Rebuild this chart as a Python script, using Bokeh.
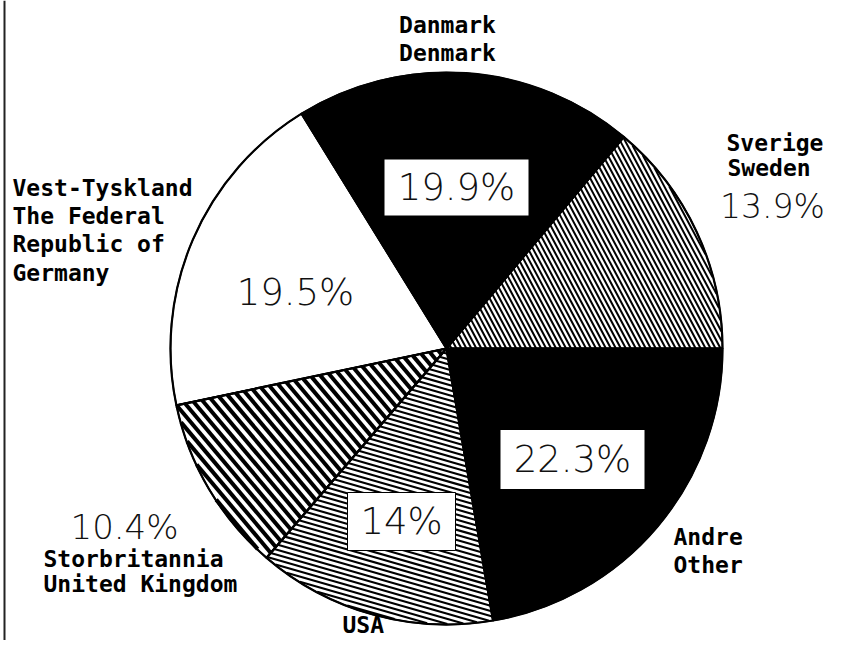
import numpy as np
from bokeh.plotting import figure
from bokeh.models import Range1d, Span
from bokeh.core.properties import value
from bokeh.embed import file_html
from bokeh.resources import INLINE

# ---------------- data ----------------
names_no = ["Sverige", "Danmark", "Vest-Tyskland", "Storbritannia", "USA", "Andre"]
names_en = ["Sweden", "Denmark", "The Federal|Republic of|Germany", "United Kingdom", "", "Other"]
shares = [13.9, 19.9, 19.5, 10.4, 14.0, 22.3]
pct_labels = ["13.9%", "19.9%", "19.5%", "10.4%", "14%", "22.3%"]

# ---------------- styles / layout ----------------
fills = ["white", "black", "white", "white", "white", "black"]
# hatch: (angle in degrees, perpendicular spacing px, line width) or None
hatches = [(-62, 4.4, 2.0), None, None, (-50, 7.6, 4.0), (-16, 4.9, 2.1), None]

W, H = 825, 640
REF_H = 656
def Y(sy):
    return REF_H - sy

CX, CY, R = 446, Y(348), 276

PCT_FONT = value("DejaVu Sans Light")
NAME_FONT = value("DejaVu Sans Mono")

# percentage label anchors (reference px): x center, y center, box (w, h) or None, font size
pct_pos = [(772, 206, None, 33), (456, 187, (145, 57), 37), (295, 292, None, 37),
           (124, 526, None, 34), (401, 521, (108, 58), 37), (572, 459, (145, 60), 37)]
# name label lines: (text, x, y of cap-height middle, align)
name_lines = [
    ("Danmark", 447, 24, "center"), ("Denmark", 447, 52, "center"),
    ("Sverige", 726, 142, "left"), ("Sweden", 727, 167, "left"),
    ("Vest-Tyskland", 12, 187, "left"), ("The Federal", 12, 215, "left"),
    ("Republic of", 12, 243, "left"), ("Germany", 12, 272, "left"),
    ("Storbritannia", 43, 558, "left"), ("United Kingdom", 43, 583, "left"),
    ("USA", 342, 624, "left"),
    ("Andre", 673, 536, "left"), ("Other", 673, 564, "left"),
]

# ---------------- geometry ----------------
frac = np.array(shares) / sum(shares)
ends = np.cumsum(frac) * 2 * np.pi
starts = np.concatenate([[0.0], ends[:-1]])


def sector_hatch(cx, cy, r, a0, a1, theta_deg, spacing):
    th = np.radians(theta_deg)
    d = np.array([np.cos(th), np.sin(th)])
    n = np.array([-np.sin(th), np.cos(th)])
    u0 = np.array([np.cos(a0), np.sin(a0)])
    u1 = np.array([np.cos(a1), np.sin(a1)])

    def cross(a, b):
        return a[0] * b[1] - a[1] * b[0]

    xs, ys = [], []
    kmax = int(r / spacing) + 1
    for k in range(-kmax, kmax + 1):
        o = k * spacing
        if abs(o) >= r:
            continue
        h = np.sqrt(r * r - o * o)
        lo, hi = -h, h
        on = o * n
        ok = True
        for u, sgn in ((u0, 1.0), (u1, -1.0)):
            A = sgn * cross(u, on)
            B = sgn * cross(u, d)
            if abs(B) < 1e-12:
                if A < 0:
                    ok = False
            elif B > 0:
                lo = max(lo, -A / B)
            else:
                hi = min(hi, -A / B)
        if not ok or hi - lo < 0.5:
            continue
        p0 = on + lo * d
        p1 = on + hi * d
        xs.append([cx + p0[0], cx + p1[0]])
        ys.append([cy + p0[1], cy + p1[1]])
    return xs, ys


# ---------------- figure ----------------
p = figure(width=W, height=H, x_range=Range1d(0, W), y_range=Range1d(REF_H - H, REF_H),
           output_backend="svg", toolbar_location=None, min_border=0,
           x_axis_type=None, y_axis_type=None)
p.grid.visible = False
p.outline_line_color = None
p.background_fill_color = "white"
p.border_fill_color = "white"

# scanned page edge line at the left
p.add_layout(Span(location=4, dimension="height", line_color="#222222", line_width=2))

# slices
p.wedge(x=CX, y=CY, radius=R, start_angle=list(starts), end_angle=list(ends),
        fill_color=fills, line_color="black", line_width=1.5)

# hatching
for i, hs in enumerate(hatches):
    if hs is None:
        continue
    ang, sp, lw = hs
    xs, ys = sector_hatch(CX, CY, R - 0.5, starts[i], ends[i], ang, sp)
    p.multi_line(xs=xs, ys=ys, line_color="black", line_width=lw)

# outlines on top
p.wedge(x=CX, y=CY, radius=R, start_angle=list(starts), end_angle=list(ends),
        fill_alpha=0, line_color="black", line_width=2.2)

# percentage labels
for lab, (x, y, box, fs) in zip(pct_labels, pct_pos):
    if box is not None:
        p.rect(x=x, y=Y(y), width=box[0], height=box[1], fill_color="white",
               line_color="black", line_width=1)
    p.text(x=[x], y=[Y(y)], text=[lab], text_font=PCT_FONT,
           text_font_size=f"{fs}px", text_align="center", text_baseline="middle",
           text_color="#111111")

# name labels
for t, x, y, al in name_lines:
    p.text(x=[x], y=[Y(y)], text=[t], text_font=NAME_FONT,
           text_font_size="23px", text_font_style="bold", text_align=al,
           text_baseline="middle", text_color="black")

open("out.html", "w").write(file_html(p, INLINE))
